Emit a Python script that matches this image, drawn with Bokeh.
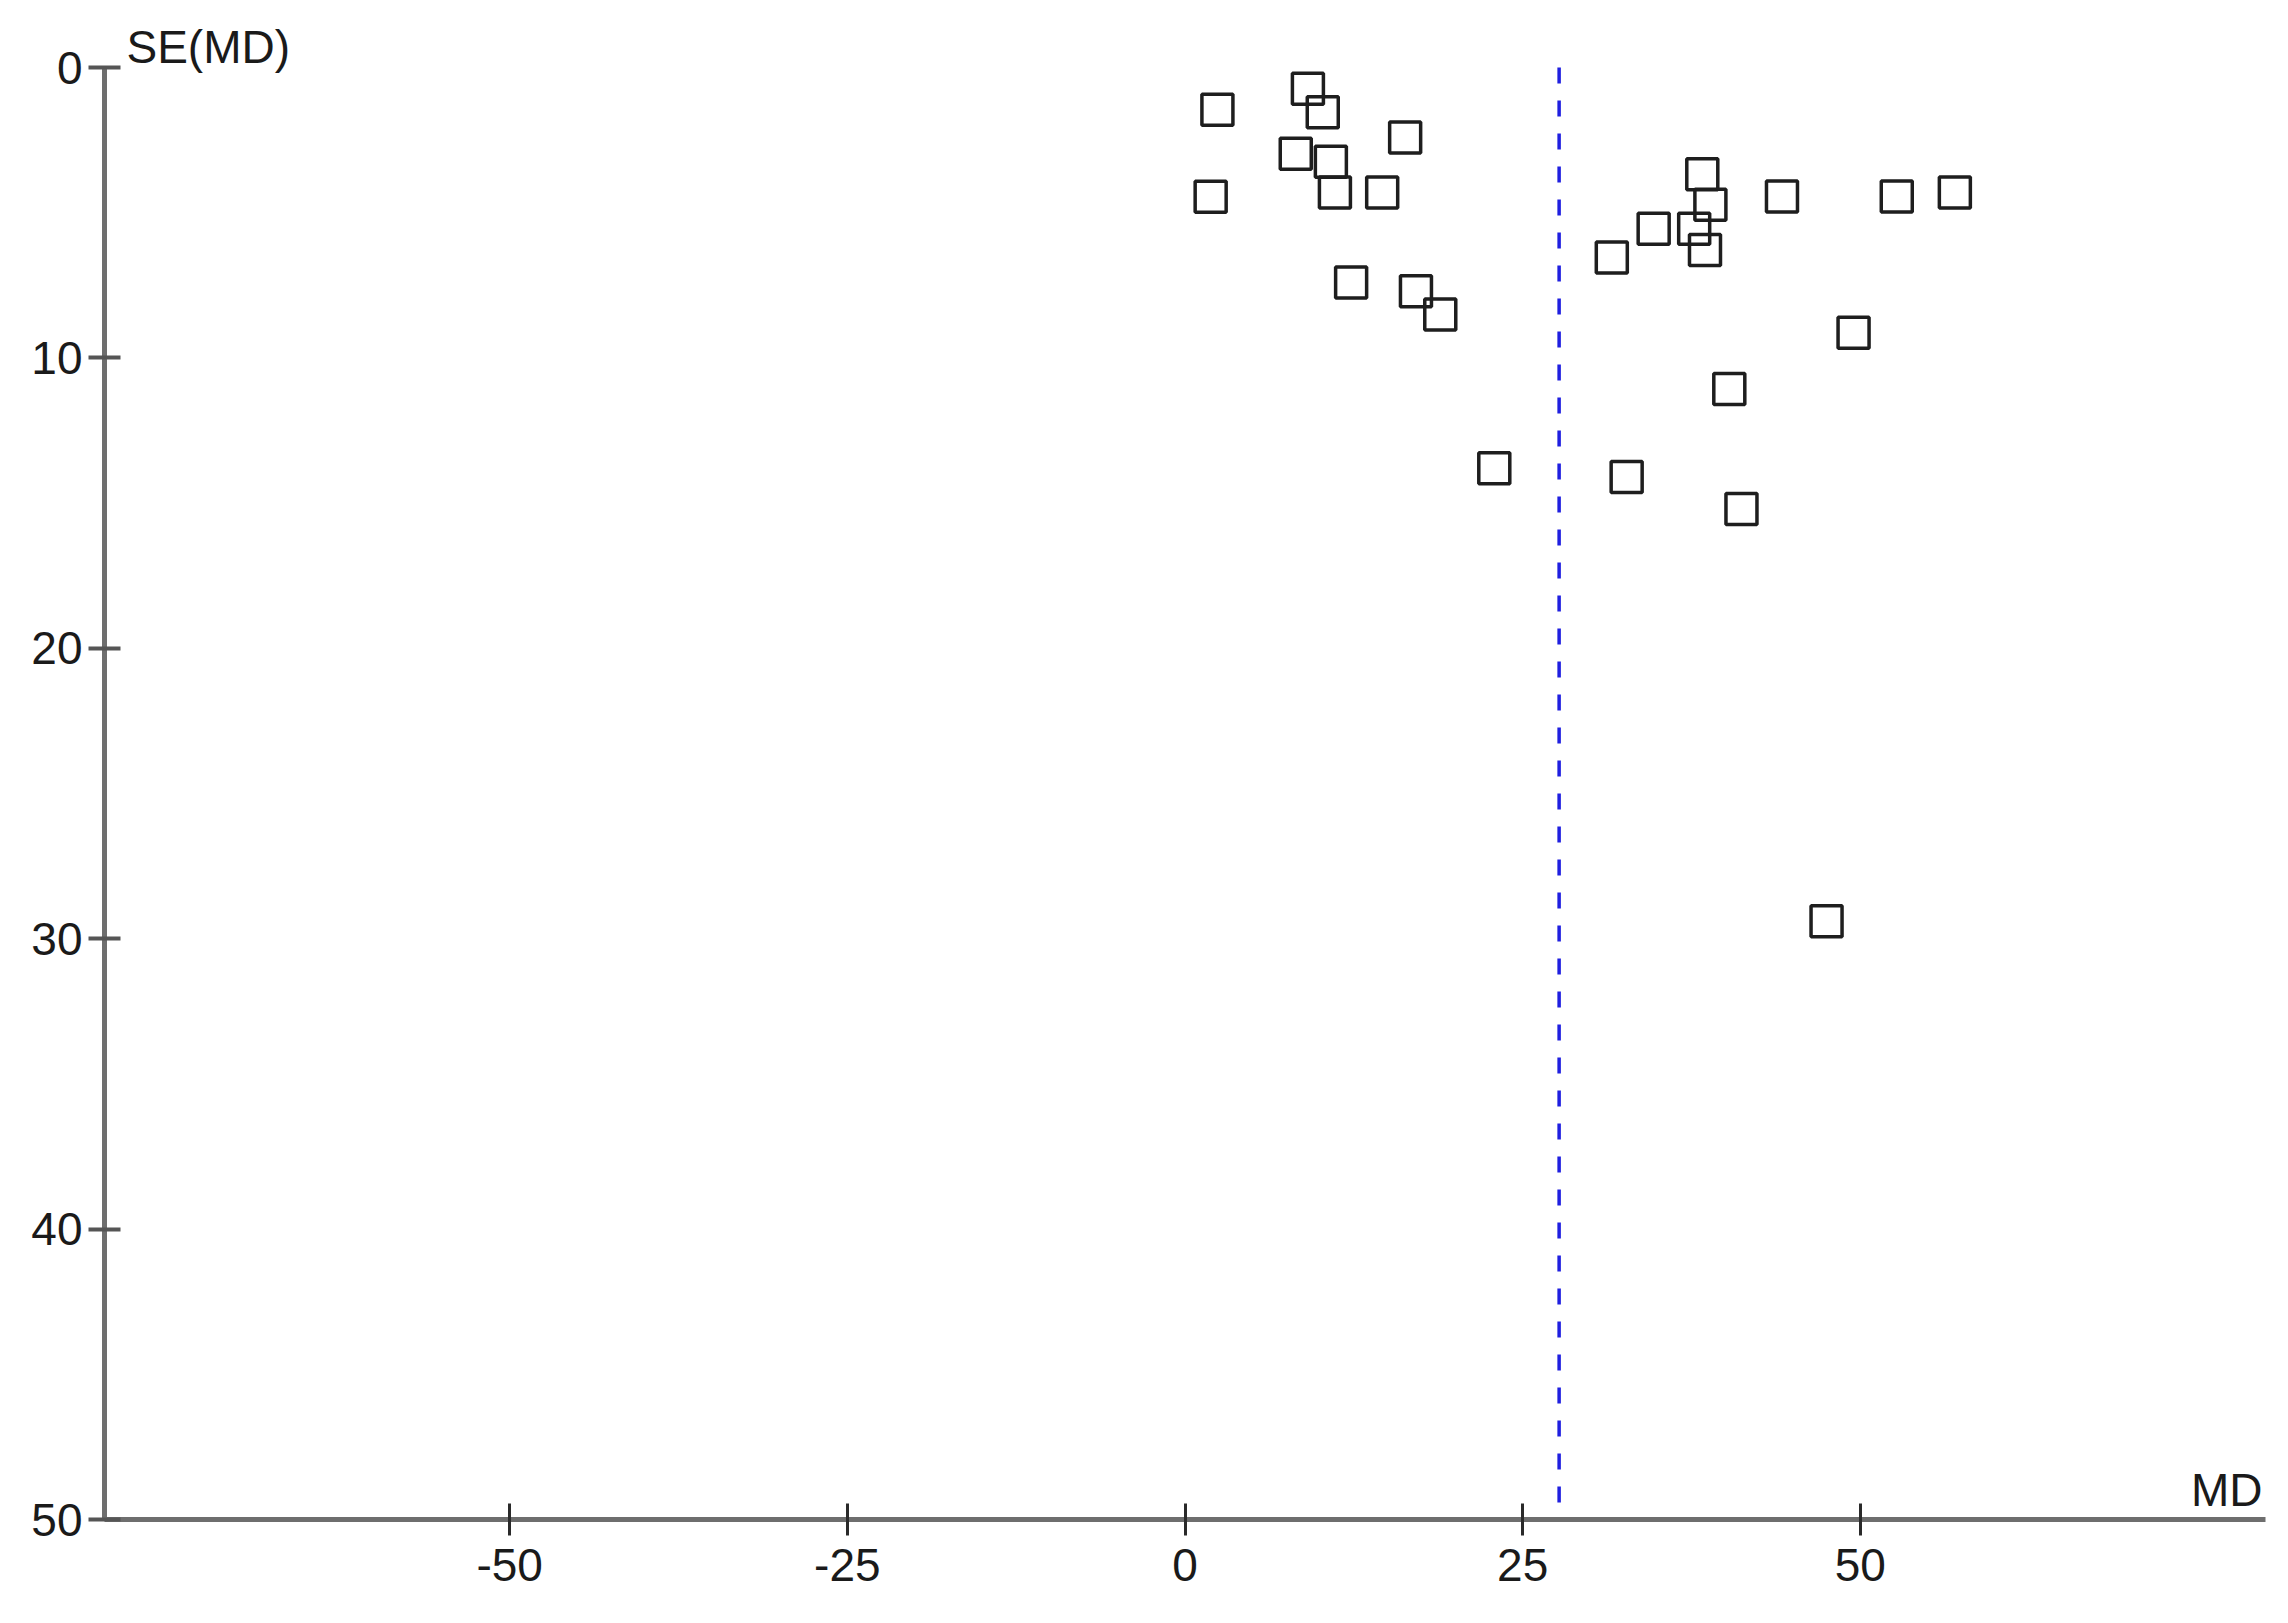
from bokeh.plotting import figure
from bokeh.models import Range1d, FixedTicker, Label
from bokeh.embed import file_html
from bokeh.resources import INLINE

# Data
md = [9.1, 10.2, 2.4, 16.3, 8.2, 10.8, 1.9, 11.1, 14.6, 12.3, 17.1, 18.9, 22.9,
      38.3, 38.9, 44.2, 52.7, 57.0, 34.7, 37.7, 38.5, 31.6, 49.5, 40.3, 32.7, 41.2, 47.5]
se = [0.73, 1.54, 1.45, 2.41, 2.97, 3.24, 4.45, 4.3, 4.3, 7.4, 7.7, 8.5, 13.8,
      3.67, 4.72, 4.44, 4.44, 4.3, 5.55, 5.55, 6.28, 6.54, 9.13, 11.07, 14.1, 15.2, 29.4]
pooled_md = 27.7
x_ticks = [-50, -25, 0, 25, 50]
y_ticks = [0, 10, 20, 30, 40, 50]
x_label = "MD"
y_label = "SE(MD)"

FONT = "Liberation Sans"
FS = "46px"

p = figure(width=2280, height=1615, output_backend="svg", toolbar_location=None,
           x_range=Range1d(-80, 80), y_range=Range1d(50, -2),
           min_border_left=104, min_border_right=15, min_border_top=9, min_border_bottom=96)
p.outline_line_color = None
p.xgrid.visible = False
p.ygrid.visible = False
p.background_fill_color = "white"
p.border_fill_color = "white"

for ax in (p.xaxis[0], p.yaxis[0]):
    ax.axis_line_color = "#6e6e6e"
    ax.axis_line_width = 5
    ax.minor_tick_line_color = None
    ax.major_label_text_font = FONT
    ax.major_label_text_font_size = FS
    ax.major_label_text_color = "#1a1a1a"
    ax.major_tick_in = 16
    ax.major_tick_out = 16

p.xaxis[0].ticker = FixedTicker(ticks=x_ticks)
p.xaxis[0].major_label_overrides = {-50: "-50", -25: "-25"}
p.xaxis[0].major_tick_line_color = "#2a2a2a"
p.xaxis[0].major_tick_line_width = 3
p.xaxis[0].major_label_standoff = 13

p.yaxis[0].ticker = FixedTicker(ticks=y_ticks)
p.yaxis[0].bounds = (0, 50)
p.yaxis[0].major_tick_line_color = "#555555"
p.yaxis[0].major_tick_line_width = 4
p.yaxis[0].major_label_standoff = 6

p.segment(x0=[pooled_md], y0=[y_ticks[0]], x1=[pooled_md], y1=[y_ticks[-1]],
          line_color="#1f1fe0", line_width=3.5, line_dash="16 17")

p.scatter(md, se, marker="square", size=31, fill_color=None,
          line_color="#1e1e1e", line_width=3.5)

p.add_layout(Label(x=80, y=50, text=x_label, text_align="right", text_baseline="alphabetic",
                   x_offset=-3, y_offset=30, text_font=FONT, text_font_size=FS,
                   text_color="#1a1a1a"))
p.add_layout(Label(x=-80, y=0, text=y_label, text_align="left", text_baseline="alphabetic",
                   x_offset=22, y_offset=21, text_font=FONT, text_font_size=FS,
                   text_color="#1a1a1a"))

open("out.html", "w").write(file_html(p, INLINE))
